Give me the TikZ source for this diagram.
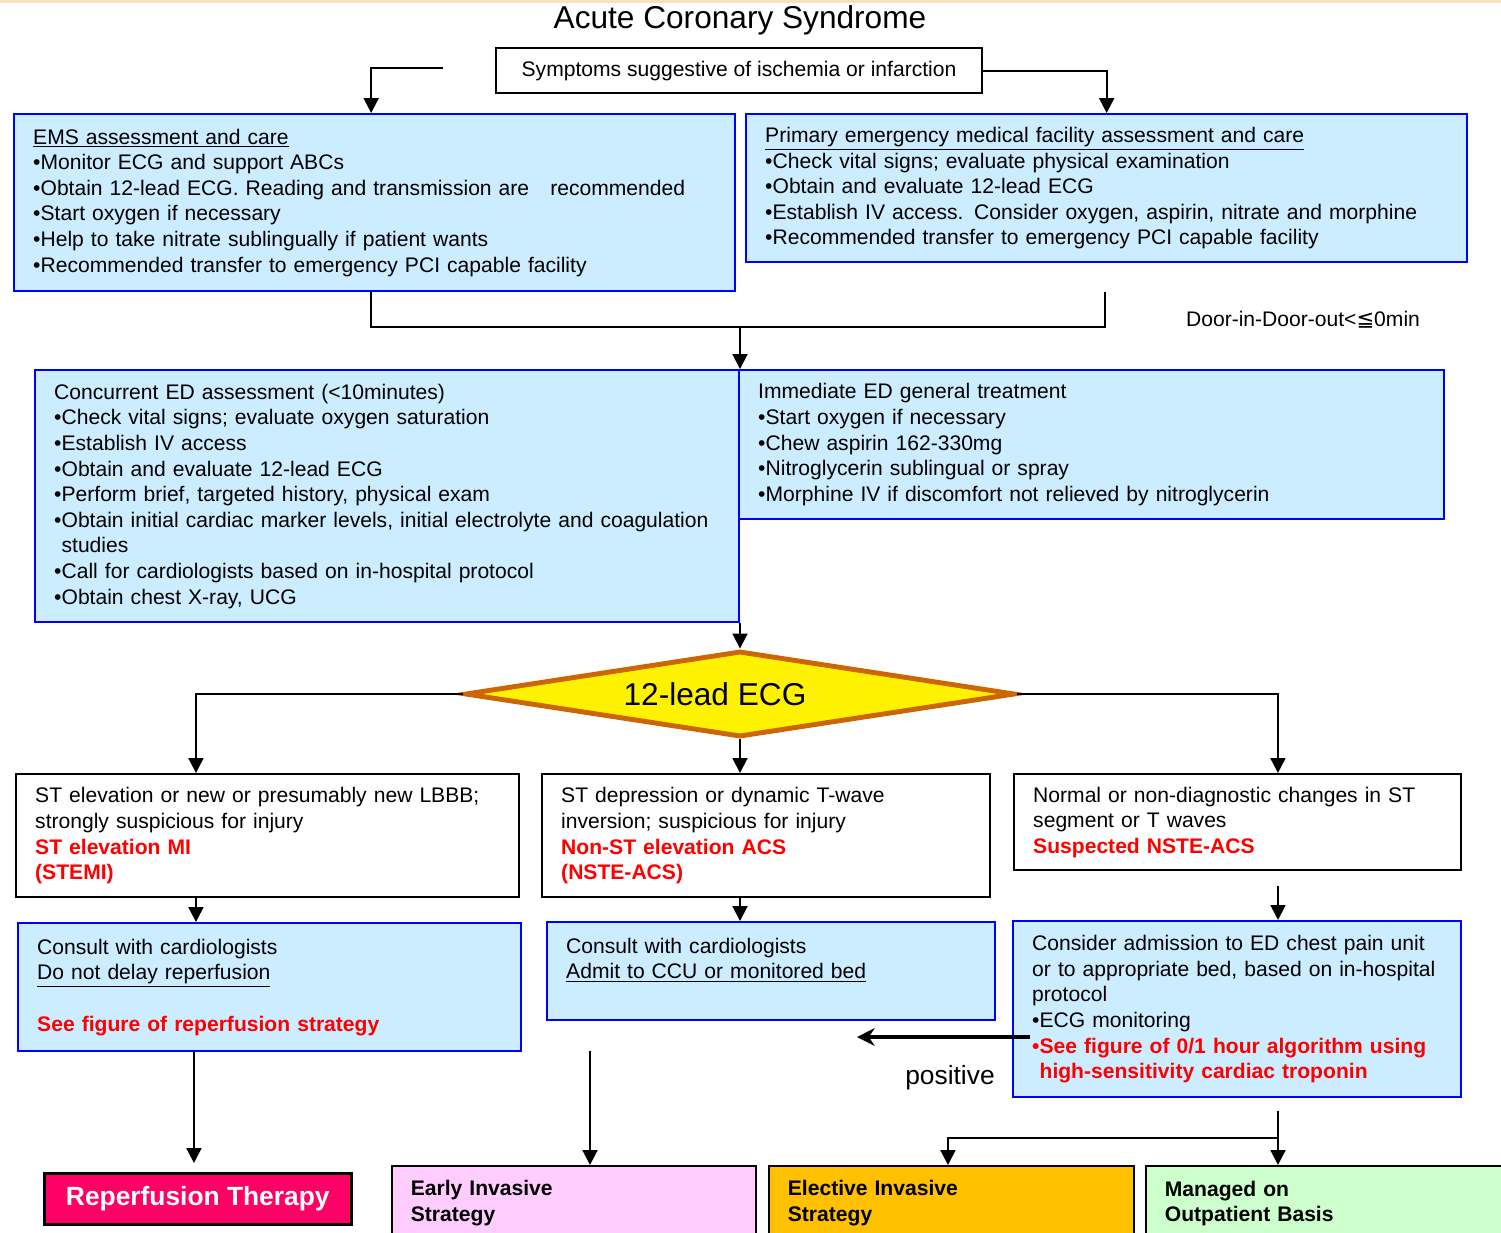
\documentclass[tikz,border=0pt]{standalone}
\usepackage{fontspec}
\setmainfont{Liberation Sans}
\newfontfamily\symfont{DejaVu Sans}
\usetikzlibrary{shapes.geometric,arrows.meta}
\definecolor{boxblue}{RGB}{204,236,255}
\definecolor{edgeblue}{RGB}{0,0,255}
\definecolor{ecgorange}{RGB}{204,102,0}
\definecolor{reppink}{RGB}{255,0,102}
\definecolor{earlypink}{RGB}{255,204,255}
\definecolor{electgold}{RGB}{255,192,0}
\definecolor{outgreen}{RGB}{204,255,204}
\definecolor{topstrip}{RGB}{250,222,192}
\newcommand{\redtxt}[1]{\textcolor{red}{\bfseries #1}}
\tikzset{
  txt/.style={font=\fontsize{12}{14.6}\selectfont},
  bluebox/.style={txt,draw=edgeblue,fill=boxblue,line width=1.4pt,anchor=north west,inner xsep=0.38cm,inner ysep=0pt,align=left},
  whitebox/.style={txt,draw=black,fill=white,line width=1.4pt,anchor=north west,inner xsep=0.38cm,inner ysep=0pt,align=left},
  endbox/.style={draw=black,line width=1pt,anchor=north west,inner xsep=0.38cm,inner ysep=0pt,align=left,font={\fontsize{12}{14.6}\selectfont\bfseries}},
  conn/.style={line width=1.1pt},
  arr/.style={conn,-{Triangle[length=8.5pt,width=8.5pt]}}
}
\begin{document}
\begin{tikzpicture}[x=0.02cm,y=-0.02cm]
  \useasboundingbox (0,0) rectangle (1501,1232);
  \fill[topstrip] (0,0) rectangle (1501,3);
  \node[font=\fontsize{18}{20}\selectfont] (title) at (740,20) {Acute Coronary Syndrome};
  \node[txt,draw,line width=1.2pt,fill=white,anchor=north west,minimum width=9.72cm,minimum height=0.9cm] (sym) at (495,47) {Symptoms suggestive of ischemia or infarction};
  \node[bluebox,text width=13.66cm,minimum height=3.54cm] (ems) at (13,113) {\underline{EMS assessment and care}\\
    •Monitor ECG and support ABCs\\
    •Obtain 12-lead ECG. Reading and transmission are\ \ \ recommended\\
    •Start oxygen if necessary\\
    •Help to take nitrate sublingually if patient wants\\
    •Recommended transfer to emergency PCI capable facility};
  \node[bluebox,text width=13.66cm,minimum height=2.96cm] (prim) at (745,113) {\underline{Primary emergency medical facility assessment and care}\\
    •Check vital signs; evaluate physical examination\\
    •Obtain and evaluate 12-lead ECG\\
    •Establish IV access. Consider oxygen, aspirin, nitrate and morphine\\
    •Recommended transfer to emergency PCI capable facility};
  \node[txt] (door) at (1303,320) {Door-in-Door-out<{\symfont ≦}0min};
  \node[bluebox,text width=13.32cm,minimum height=5.04cm] (conc) at (34,369) {Concurrent ED assessment (<10minutes)\\
    •Check vital signs; evaluate oxygen saturation\\
    •Establish IV access\\
    •Obtain and evaluate 12-lead ECG\\
    •Perform brief, targeted history, physical exam\\
    •Obtain initial cardiac marker levels, initial electrolyte and coagulation\\
    \phantom{•}studies\\
    •Call for cardiologists based on in-hospital protocol\\
    •Obtain chest X-ray, UCG};
  \node[bluebox,text width=13.34cm,minimum height=2.98cm] (imm) at (738,369) {Immediate ED general treatment\\
    •Start oxygen if necessary\\
    •Chew aspirin 162-330mg\\
    •Nitroglycerin sublingual or spray\\
    •Morphine IV if discomfort not relieved by nitroglycerin};
  \node[diamond,draw=ecgorange,line width=2.8pt,fill=yellow,aspect=6.4,inner sep=0pt,minimum width=11cm,minimum height=1.72cm,
    label={[xshift=-0.5cm,font=\fontsize{18}{20}\selectfont]center:12-lead ECG}] (ecg) at (740,694) {};
  \node[whitebox,text width=9.30cm,minimum height=2.46cm] (ste) at (15,773) {ST elevation or new or presumably new LBBB;\\
    strongly suspicious for injury\\
    \redtxt{ST elevation MI}\\
    \redtxt{(STEMI)}};
  \node[whitebox,text width=8.20cm,minimum height=2.46cm] (std) at (541,773) {ST depression or dynamic T-wave\\
    inversion; suspicious for injury\\
    \redtxt{Non-ST elevation ACS}\\
    \redtxt{(NSTE-ACS)}};
  \node[whitebox,text width=8.18cm,minimum height=1.92cm] (nrm) at (1013,773) {Normal or non-diagnostic changes in ST\\
    segment or T waves\\
    \redtxt{Suspected NSTE-ACS}};
  \node[bluebox,text width=9.30cm,minimum height=2.56cm] (con1) at (17,922) {Consult with cardiologists\\
    \underline{Do not delay reperfusion}\\
    ~\\
    \redtxt{See figure of reperfusion strategy}};
  \node[bluebox,text width=8.20cm,minimum height=1.96cm] (con2) at (546,921) {Consult with cardiologists\\
    \underline{Admit to CCU or monitored bed}\\
    ~};
  \node[bluebox,text width=8.20cm,minimum height=3.52cm] (cons) at (1012,920) {Consider admission to ED chest pain unit\\
    or to appropriate bed, based on in-hospital\\
    protocol\\
    •ECG monitoring\\
    \redtxt{•See figure of 0/1 hour algorithm using}\\
    \redtxt{\phantom{•}high-sensitivity cardiac troponin}};
  \node[font=\fontsize{15}{17}\selectfont] (pos) at (950,1078) {positive};
  \node[draw=black,line width=1.5pt,fill=reppink,text=white,anchor=north west,minimum width=6.14cm,minimum height=1.02cm,font={\fontsize{15}{17}\selectfont\bfseries}] (rep) at (43,1172) {Reperfusion Therapy};
  \node[endbox,fill=earlypink,text width=6.52cm,minimum height=1.50cm] (early) at (391,1165) {Early Invasive\\ Strategy};
  \node[endbox,fill=electgold,text width=6.54cm,minimum height=1.50cm] (elect) at (768,1165) {Elective Invasive\\ Strategy};
  \node[endbox,fill=outgreen,text width=6.52cm,minimum height=1.50cm] (managed) at (1145,1165) {Managed on\\ Outpatient Basis};
  \coordinate (symL) at (443,68);
  \coordinate (join) at (740,327);
  \coordinate (primL) at (1105,292);
  \coordinate (n1) at (1278,886);
  \coordinate (posA) at (1030,1037);
  \coordinate (posB) at (857,1037);
  \coordinate (e1) at (590,1051);
  \coordinate (m1) at (1278,1111);
  \coordinate (m2) at (1278,1138);
  \draw[arr] (symL) -| ([xshift=-0.07cm]ems.north);
  \draw[arr] (sym.east) -| (prim.north);
  \draw[conn] ([xshift=-0.07cm]ems.south) |- (join) -| (primL);
  \draw[arr] (join) -- (join |- conc.north);
  \draw[arr] (ecg.north |- conc.south) -- (ecg.north);
  \draw[arr] (ecg.west) -| ([xshift=3.62cm]ste.north west);
  \draw[arr] (ecg.south) -- (ecg.south |- std.north);
  \draw[arr] (ecg.east) -| ([xshift=5.30cm]nrm.north west);
  \draw[arr] (ste.south west) ++(3.62cm,0) coordinate (s1) -- (s1 |- con1.north);
  \draw[arr] (ecg.south |- std.south) -- (ecg.south |- con2.north);
  \draw[arr] (n1) -- (n1 |- cons.north);
  \draw[line width=2.2pt,-{Stealth[length=10pt,width=10pt]}] (posA) -- (posB);
  \draw[arr,shorten >=0.18cm] (con1.south west) ++(3.54cm,0) coordinate (c1) -- (c1 |- rep.north);
  \draw[arr] (e1) -- (e1 |- early.north);
  \draw[arr] (m1) -- (m1 |- managed.north);
  \draw[arr] (m2) -| ([xshift=3.60cm]elect.north west);
\end{tikzpicture}
\end{document}
